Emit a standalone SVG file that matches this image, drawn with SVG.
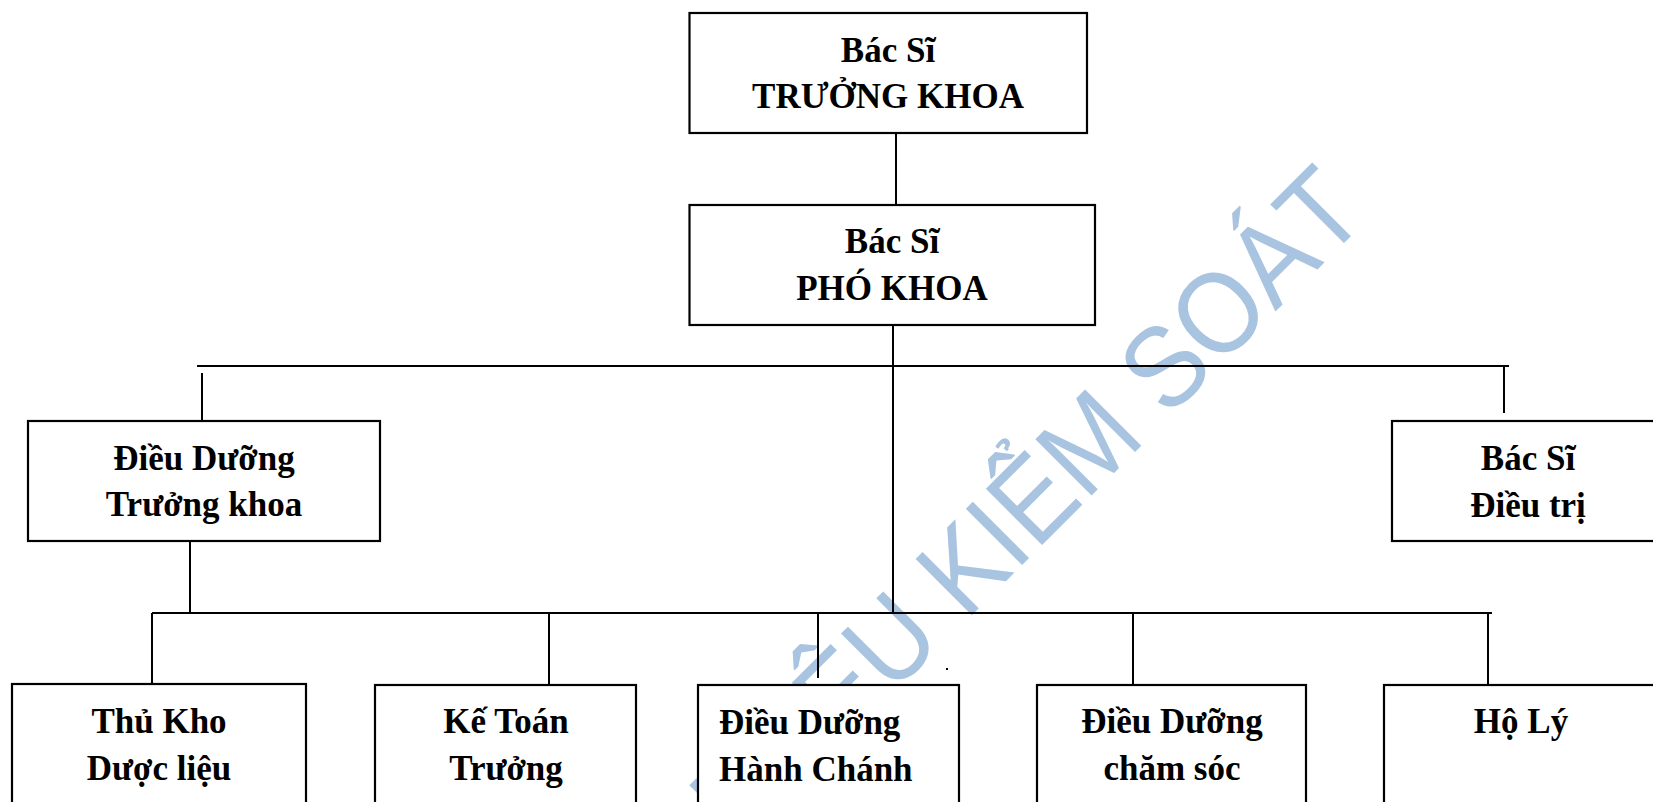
<svg xmlns="http://www.w3.org/2000/svg" width="1653" height="802" viewBox="0 0 1653 802">
<style>
.box{fill:#fff;stroke:#000;stroke-width:2.2}
.t{font-family:"Liberation Serif","Times New Roman",serif;font-weight:bold;font-size:35px;fill:#000;text-anchor:middle}
.tl{text-anchor:start}
.c{stroke:#000;stroke-width:2;fill:none}
.wm{font-family:"Liberation Sans",Arial,sans-serif;font-size:105px;fill:#a9c4e0}
</style>
<rect width="1653" height="802" fill="#fff"/>
<g id="watermark">
<text class="wm" text-anchor="end" transform="translate(1370 217) rotate(-45) scale(1 1.1)">TÀI LIỆU KIỂM SOÁT</text>
</g>
<g id="connectors">
<line class="c" x1="896" y1="133" x2="896" y2="205"/>
<line class="c" x1="893" y1="325" x2="893" y2="613"/>
<line class="c" x1="197" y1="366" x2="1509" y2="366"/>
<line class="c" x1="202" y1="373" x2="202" y2="421"/>
<line class="c" x1="1504" y1="366" x2="1504" y2="413"/>
<line class="c" x1="190" y1="541" x2="190" y2="613"/>
<line class="c" x1="152" y1="613" x2="1492" y2="613"/>
<line class="c" x1="152" y1="613" x2="152" y2="684"/>
<line class="c" x1="549" y1="613" x2="549" y2="685"/>
<line class="c" x1="818" y1="613" x2="818" y2="678"/>
<line class="c" x1="1133" y1="613" x2="1133" y2="685"/>
<line class="c" x1="1488" y1="613" x2="1488" y2="685"/>
</g>
<g id="n-truong-khoa">
<rect class="box" x="689.5" y="13" width="397.5" height="120"/>
<text class="t" x="888" y="62">Bác Sĩ</text>
<text class="t" x="888" y="108">TRƯỞNG KHOA</text>
</g>
<g id="n-pho-khoa">
<rect class="box" x="689.5" y="205" width="405.5" height="120"/>
<text class="t" x="892" y="253">Bác Sĩ</text>
<text class="t" x="892" y="300">PHÓ KHOA</text>
</g>
<g id="n-dd-truong-khoa">
<rect class="box" x="28" y="421" width="352" height="120"/>
<text class="t" x="204" y="470">Điều Dưỡng</text>
<text class="t" x="204" y="516">Trưởng khoa</text>
</g>
<g id="n-bs-dieu-tri">
<rect class="box" x="1392" y="421" width="300" height="120"/>
<text class="t" x="1528" y="470">Bác Sĩ</text>
<text class="t" x="1528" y="517">Điều trị</text>
</g>
<g id="n-thu-kho">
<rect class="box" x="12" y="684" width="294" height="150"/>
<text class="t" x="159" y="733">Thủ Kho</text>
<text class="t" x="159" y="780">Dược liệu</text>
</g>
<g id="n-ke-toan">
<rect class="box" x="375" y="685" width="261" height="150"/>
<text class="t" x="506" y="733">Kế Toán</text>
<text class="t" x="506" y="780">Trưởng</text>
</g>
<g id="n-dd-hanh-chanh">
<rect class="box" x="698" y="685" width="261" height="150"/>
<text class="t tl" x="719" y="734">Điều Dưỡng</text>
<text class="t tl" x="719" y="781">Hành Chánh</text>
</g>
<g id="n-dd-cham-soc">
<rect class="box" x="1037" y="685" width="269" height="150"/>
<text class="t" x="1172" y="733">Điều Dưỡng</text>
<text class="t" x="1172" y="780">chăm sóc</text>
</g>
<g id="n-ho-ly">
<rect class="box" x="1384" y="685" width="300" height="150"/>
<text class="t" x="1521" y="733">Hộ Lý</text>
</g>
<rect x="946" y="668" width="2" height="2" fill="#000"/>
</svg>
